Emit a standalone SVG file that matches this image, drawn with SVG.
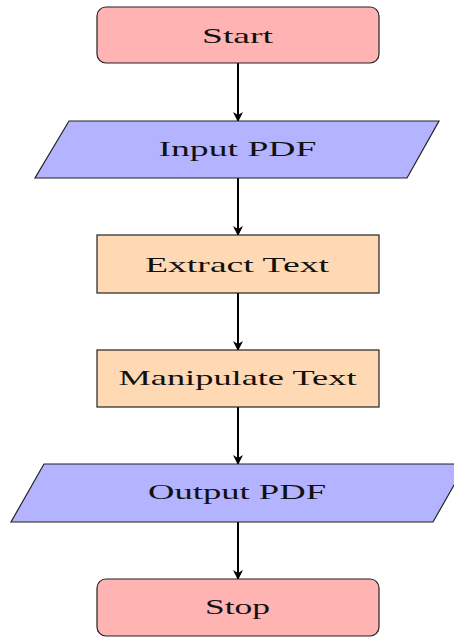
<svg xmlns="http://www.w3.org/2000/svg" width="454" height="637" viewBox="0 0 454 637">
  <style>
    .term { fill: #ffb3b3; stroke: #222; stroke-width: 1.2; }
    .io { fill: #b3b3ff; stroke: #222; stroke-width: 1.2; }
    .proc { fill: #ffd9b3; stroke: #222; stroke-width: 1.2; }
    .label { font-family: "Liberation Serif", "DejaVu Serif", serif; font-size: 21px; fill: #111; text-anchor: middle; }
    .flow { stroke: #000; stroke-width: 2; fill: none; marker-end: url(#arrow); }
  </style>
  <defs>
    <marker id="arrow" viewBox="0 0 10 10" refX="9" refY="5" markerWidth="5" markerHeight="5" orient="auto" markerUnits="strokeWidth">
      <path d="M0,0 L10,5 L0,10 L3,5 Z" fill="#000"/>
    </marker>
  </defs>

  <g id="connectors">
    <line class="flow" x1="238" y1="63" x2="238" y2="121"/>
    <line class="flow" x1="238" y1="178" x2="238" y2="235"/>
    <line class="flow" x1="238" y1="293" x2="238" y2="350"/>
    <line class="flow" x1="238" y1="407" x2="238" y2="464"/>
    <line class="flow" x1="238" y1="522" x2="238" y2="579"/>
  </g>

  <g id="start">
    <rect class="term" x="97" y="7" width="282" height="56" rx="9"/>
    <text class="label" x="237.5" y="43" textLength="71" lengthAdjust="spacingAndGlyphs">Start</text>
  </g>

  <g id="input-pdf">
    <polygon class="io" points="69,121 439,121 407,178 35,178"/>
    <text class="label" x="237.5" y="156" textLength="158" lengthAdjust="spacingAndGlyphs">Input PDF</text>
  </g>

  <g id="extract-text">
    <rect class="proc" x="97" y="235" width="282" height="58"/>
    <text class="label" x="237" y="272" textLength="184" lengthAdjust="spacingAndGlyphs">Extract Text</text>
  </g>

  <g id="manipulate-text">
    <rect class="proc" x="97" y="350" width="282" height="57"/>
    <text class="label" x="237.5" y="385" textLength="238" lengthAdjust="spacingAndGlyphs">Manipulate Text</text>
  </g>

  <g id="output-pdf">
    <polygon class="io" points="44,464 466,464 433,522 11,522"/>
    <text class="label" x="237" y="499" textLength="178" lengthAdjust="spacingAndGlyphs">Output PDF</text>
  </g>

  <g id="stop">
    <rect class="term" x="97" y="579" width="282" height="57" rx="9"/>
    <text class="label" x="237.5" y="614" textLength="65" lengthAdjust="spacingAndGlyphs">Stop</text>
  </g>
</svg>
